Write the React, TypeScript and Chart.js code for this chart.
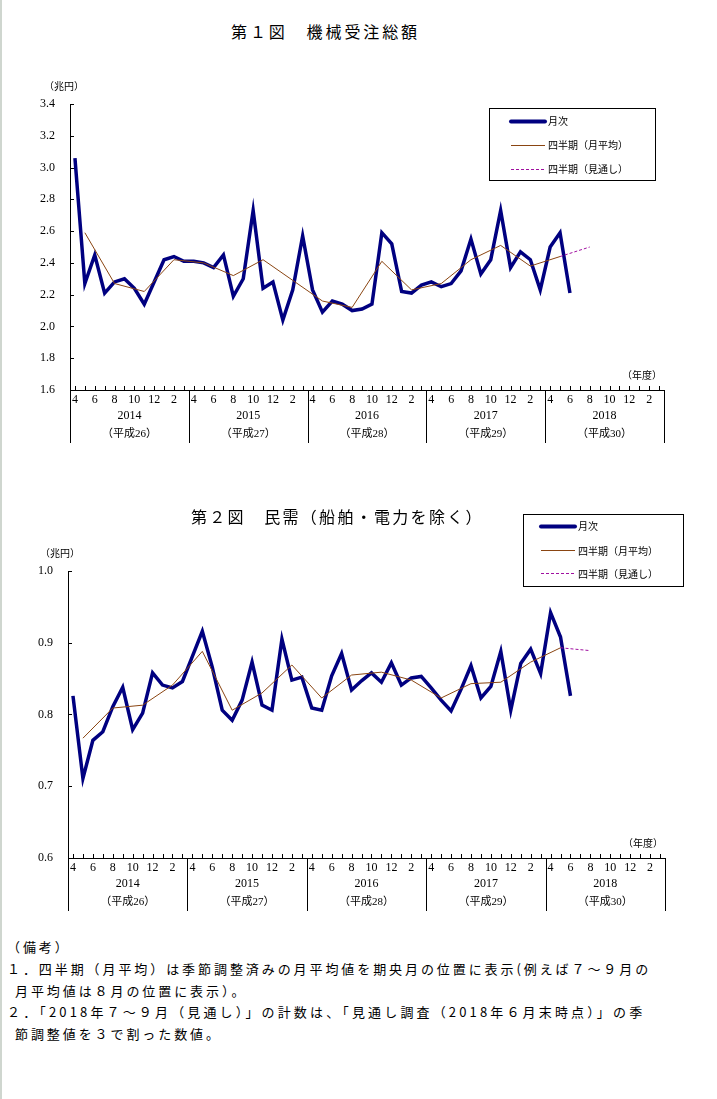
import React, { useEffect, useRef } from "react";
import { Chart, registerables } from "chart.js";

Chart.register(...registerables);

// ---------- data ----------
const fiscalYears = ["2014", "2015", "2016", "2017", "2018"];
const heiseiLabels = ["（平成26）", "（平成27）", "（平成28）", "（平成29）", "（平成30）"];
const monthsOfYear = [4, 5, 6, 7, 8, 9, 10, 11, 12, 1, 2, 3];
const monthTickLabels = ["4", "", "6", "", "8", "", "10", "", "12", "", "2", ""];
const categories = fiscalYears.flatMap((y) => monthsOfYear.map((m) => `${y}-${m}`));

const legendLabels = ["月次", "四半期（月平均）", "四半期（見通し）"];
const unitLabel = "（兆円）";
const xUnitLabel = "（年度）";

// 第1図 機械受注総額 (monthly, 2014/4 - 2018/6)
const totalMonthly = [
  3.06, 2.27, 2.45, 2.21, 2.28, 2.30, 2.24, 2.14, 2.28, 2.42, 2.44, 2.41,
  2.41, 2.40, 2.37, 2.45, 2.19, 2.30, 2.73, 2.24, 2.28, 2.04, 2.23, 2.57,
  2.23, 2.09, 2.16, 2.14, 2.10, 2.11, 2.14, 2.59, 2.52, 2.22, 2.21, 2.26,
  2.28, 2.25, 2.27, 2.35, 2.55, 2.33, 2.42, 2.73, 2.37, 2.47, 2.42, 2.23,
  2.50, 2.59, 2.21,
];
// quarterly monthly-average, plotted at middle month (May, Aug, Nov, Feb)
const totalQuarterly = [
  2.59, 2.27, 2.22, 2.42,
  2.40, 2.32, 2.42, 2.29,
  2.16, 2.12, 2.41, 2.23,
  2.27, 2.42, 2.51, 2.38,
  2.44,
];
const totalForecast = [2.44, 2.50]; // 2018 Apr-Jun -> Jul-Sep (見通し)

// 第2図 民需（船舶・電力を除く）
const privateMonthly = [
  0.826, 0.711, 0.764, 0.776, 0.811, 0.838, 0.779, 0.802, 0.858, 0.841, 0.837, 0.846,
  0.881, 0.916, 0.866, 0.806, 0.792, 0.820, 0.873, 0.813, 0.806, 0.905, 0.848, 0.852,
  0.809, 0.806, 0.854, 0.885, 0.834, 0.847, 0.858, 0.845, 0.872, 0.841, 0.851, 0.853,
  0.837, 0.820, 0.805, 0.835, 0.868, 0.823, 0.839, 0.888, 0.806, 0.871, 0.891, 0.857,
  0.942, 0.908, 0.826,
];
const privateQuarterly = [
  0.767, 0.809, 0.813, 0.841,
  0.888, 0.806, 0.830, 0.869,
  0.823, 0.855, 0.859, 0.848,
  0.823, 0.843, 0.845, 0.873,
  0.893,
];
const privateForecast = [0.893, 0.889];

// ---------- helpers ----------
function placeQuarterly(values: number[], firstIndex: number) {
  const arr: (number | null)[] = categories.map(() => null);
  values.forEach((v, k) => {
    arr[firstIndex + k * 3] = v;
  });
  return arr;
}

const NAVY = "#000080";
const BROWN = "#8a4512";
const PURPLE = "#a010a0";
const NUM_FONT = "'Liberation Serif', 'Noto Sans CJK JP'";
const JP_FONT = "'Noto Sans CJK JP'";

const axisDecor = {
  id: "axisDecor",
  afterDraw(chart: any, _args: any, opts: any) {
    const { ctx } = chart;
    const { left, right, top, bottom } = chart.chartArea;
    const xs = chart.scales.x;
    const ys = chart.scales.y;
    ctx.save();
    ctx.strokeStyle = "#000";
    ctx.fillStyle = "#000";
    ctx.lineWidth = 1;

    // inward y ticks
    ys.ticks.forEach((t: any) => {
      const y = Math.round(ys.getPixelForValue(t.value)) + 0.5;
      ctx.beginPath();
      ctx.moveTo(left, y);
      ctx.lineTo(left + 4, y);
      ctx.stroke();
    });

    // inward x ticks (each month)
    const step = xs.getPixelForValue(1) - xs.getPixelForValue(0);
    for (let i = 0; i < categories.length; i++) {
      const x = Math.round(xs.getPixelForValue(i)) + 0.5;
      ctx.beginPath();
      ctx.moveTo(x, bottom);
      ctx.lineTo(x, bottom - 4);
      ctx.stroke();
    }

    // fiscal year separators
    for (let k = 0; k <= fiscalYears.length; k++) {
      const x = Math.round(xs.getPixelForValue(k * 12) - step / 2) + 0.5;
      ctx.beginPath();
      ctx.moveTo(x, bottom);
      ctx.lineTo(x, bottom + 53);
      ctx.stroke();
    }

    // month labels
    ctx.textAlign = "center";
    ctx.textBaseline = "middle";
    ctx.font = `12px ${NUM_FONT}`;
    for (let i = 0; i < categories.length; i++) {
      const lab = monthTickLabels[i % 12];
      if (lab) ctx.fillText(lab, xs.getPixelForValue(i), bottom + 10);
    }
    // year labels
    fiscalYears.forEach((y, k) => {
      const cx = (xs.getPixelForValue(k * 12 + 5) + xs.getPixelForValue(k * 12 + 6)) / 2;
      ctx.font = `12px ${NUM_FONT}`;
      ctx.fillText(y, cx, bottom + 26);
      ctx.font = `11px ${NUM_FONT}`;
      ctx.fillText(heiseiLabels[k], cx, bottom + 44);
    });

    // unit labels
    ctx.font = `10px ${JP_FONT}`;
    ctx.textAlign = "right";
    ctx.fillText(xUnitLabel, right - 2, bottom - 15);
    ctx.textAlign = "center";
    ctx.fillText(unitLabel, left + opts.unitDx, top - 18);

    // legend box
    const lg = opts.legend;
    ctx.strokeRect(lg.x + 0.5, lg.y + 0.5, lg.w, lg.h);
    const styles = [
      { c: NAVY, w: 4, d: [] as number[] },
      { c: BROWN, w: 1, d: [] as number[] },
      { c: PURPLE, w: 1, d: [3, 2] },
    ];
    ctx.textAlign = "left";
    ctx.font = `10px ${JP_FONT}`;
    legendLabels.forEach((lab, r) => {
      const y = lg.rows[r];
      ctx.save();
      ctx.strokeStyle = styles[r].c;
      ctx.lineWidth = styles[r].w;
      ctx.lineCap = r === 0 ? "round" : "butt";
      ctx.setLineDash(styles[r].d);
      ctx.beginPath();
      ctx.moveTo(lg.lx0, Math.round(y) + 0.5);
      ctx.lineTo(lg.lx1, Math.round(y) + 0.5);
      ctx.stroke();
      ctx.restore();
      ctx.fillStyle = "#000";
      ctx.fillText(lab, lg.tx, y + 1);
    });
    ctx.restore();
  },
};

type ChartProps = {
  top: number;
  height: number;
  monthly: number[];
  quarterly: number[];
  forecast: number[];
  yMin: number;
  yMax: number;
  yStep: number;
  padTop: number;
  padRight: number;
  yWidth: number;
  xHeight: number;
  unitDx: number;
  legend: any;
};

function LineChart(p: ChartProps) {
  const ref = useRef<HTMLCanvasElement>(null);
  useEffect(() => {
    const forecastArr: (number | null)[] = categories.map(() => null);
    forecastArr[49] = p.forecast[0];
    forecastArr[52] = p.forecast[1];
    const chart = new Chart(ref.current as HTMLCanvasElement, {
      type: "line",
      data: {
        labels: categories,
        datasets: [
          {
            label: legendLabels[1],
            data: placeQuarterly(p.quarterly, 1),
            borderColor: BROWN,
            borderWidth: 1,
            pointRadius: 0,
            spanGaps: true,
            order: 0,
          },
          {
            label: legendLabels[2],
            data: forecastArr,
            borderColor: PURPLE,
            borderWidth: 1,
            borderDash: [3, 2],
            pointRadius: 0,
            spanGaps: true,
            order: 0,
          },
          {
            label: legendLabels[0],
            data: p.monthly,
            borderColor: NAVY,
            borderWidth: 3.5,
            pointRadius: 0,
            order: 1,
          },
        ],
      },
      options: {
        animation: false,
        responsive: false,
        maintainAspectRatio: false,
        layout: { padding: { top: p.padTop, right: p.padRight, left: 0, bottom: 0 } },
        plugins: {
          legend: { display: false },
          tooltip: { enabled: false },
          axisDecor: { legend: p.legend, unitDx: p.unitDx },
        } as any,
        scales: {
          x: {
            type: "category",
            offset: true,
            grid: { display: false, drawTicks: false },
            border: { display: true, color: "#000", width: 1 },
            ticks: { display: false },
            afterFit: (s: any) => {
              s.height = p.xHeight;
            },
          },
          y: {
            min: p.yMin,
            max: p.yMax,
            grid: { display: false, drawTicks: false },
            border: { display: true, color: "#000", width: 1 },
            ticks: {
              stepSize: p.yStep,
              padding: 15,
              color: "#000",
              font: { family: "Liberation Serif", size: 12 },
              callback: (v: any) => Number(v).toFixed(1),
            },
            afterFit: (s: any) => {
              s.width = p.yWidth;
            },
          },
        },
      },
      plugins: [axisDecor],
    } as any);
    return () => chart.destroy();
  }, []);
  return (
    <canvas
      ref={ref}
      width={700}
      height={p.height}
      style={{ position: "absolute", left: 0, top: p.top, width: 700, height: p.height }}
    />
  );
}

const titleStyle: React.CSSProperties = {
  position: "absolute",
  fontFamily: JP_FONT,
  fontSize: 16,
  whiteSpace: "nowrap",
  color: "#000",
  lineHeight: "20px",
  zIndex: 2,
};

const noteStyle: React.CSSProperties = {
  position: "absolute",
  left: 7,
  top: 936,
  fontFamily: JP_FONT,
  fontSize: 13,
  letterSpacing: "2.92px",
  lineHeight: "21.8px",
  whiteSpace: "nowrap",
  color: "#000",
};

export default function App() {
  return (
    <div style={{ position: "absolute", left: 0, top: 0, width: 717, height: 1099, background: "#fff" }}>
      <div style={{ position: "absolute", left: 0, top: 0, width: 2, height: 1099, background: "#cfd6cf" }} />
      <div style={{ ...titleStyle, left: 231, top: 21, letterSpacing: "2.9px" }}>第１図　機械受注総額</div>
      <div style={{ ...titleStyle, left: 191, top: 506, letterSpacing: "2.3px" }}>
        第２図　民需（船舶・電力を除く）
      </div>
      <LineChart
        top={60}
        height={400}
        monthly={totalMonthly}
        quarterly={totalQuarterly}
        forecast={totalForecast}
        yMin={1.6}
        yMax={3.4}
        yStep={0.2}
        padTop={44}
        padRight={36}
        yWidth={70}
        xHeight={70}
        unitDx={-6}
        legend={{ x: 489, y: 48, w: 166, h: 72, rows: [60.7, 84.7, 108.7], lx0: 511, lx1: 545, tx: 548 }}
      />
      <LineChart
        top={500}
        height={420}
        monthly={privateMonthly}
        quarterly={privateQuarterly}
        forecast={privateForecast}
        yMin={0.6}
        yMax={1.0}
        yStep={0.1}
        padTop={71}
        padRight={35}
        yWidth={68}
        xHeight={62}
        unitDx={-8}
        legend={{ x: 523, y: 14, w: 160, h: 72, rows: [25.7, 50, 73.3], lx0: 541, lx1: 575, tx: 578 }}
      />
      <div style={noteStyle}>
        <div>（備考）</div>
        <div>１．四半期（月平均）は季節調整済みの月平均値を期央月の位置に表示(例えば７～９月の</div>
        <div style={{ paddingLeft: 8 }}>月平均値は８月の位置に表示）。</div>
        <div style={{ letterSpacing: "3.15px" }}>
          ２．「2018年７～９月（見通し）」の計数は、「見通し調査（2018年６月末時点）」の季
        </div>
        <div style={{ paddingLeft: 8 }}>節調整値を３で割った数値。</div>
      </div>
    </div>
  );
}
